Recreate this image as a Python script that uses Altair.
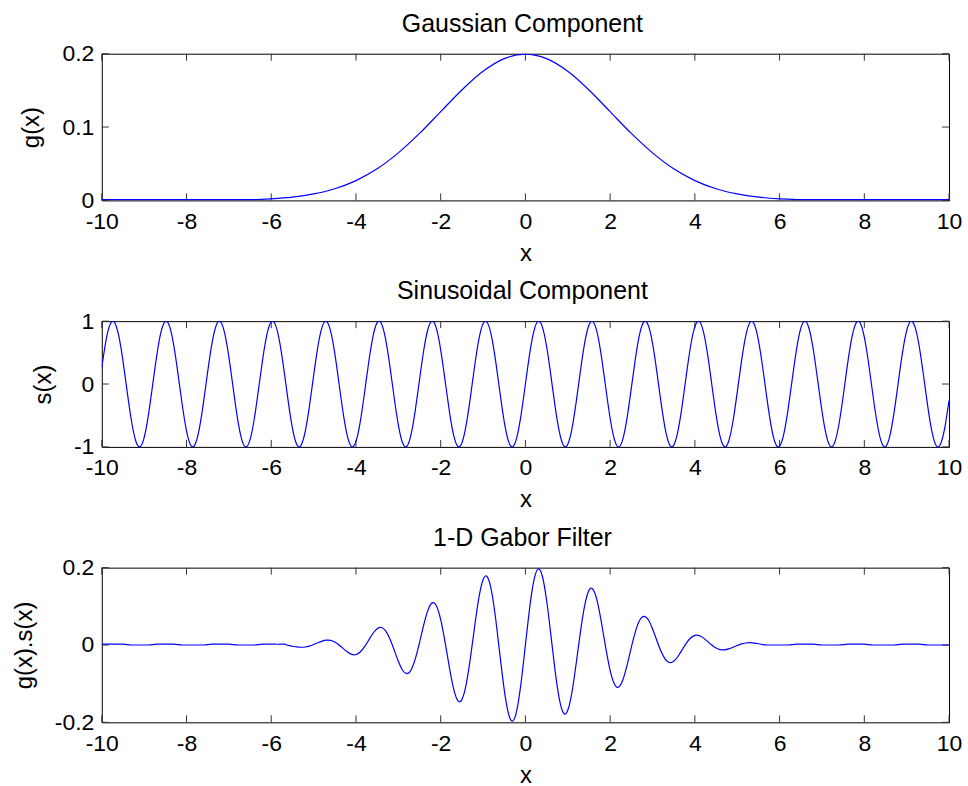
import altair as alt
import pandas as pd

# ---------------- data ----------------
X = [
    -10.0, -9.9, -9.8, -9.7, -9.6, -9.5, -9.4, -9.3, -9.2, -9.1,
    -9.0, -8.9, -8.8, -8.7, -8.6, -8.5, -8.4, -8.3, -8.2, -8.1,
    -8.0, -7.9, -7.8, -7.7, -7.6, -7.5, -7.4, -7.3, -7.2, -7.1,
    -7.0, -6.9, -6.8, -6.7, -6.6, -6.5, -6.4, -6.3, -6.2, -6.1,
    -6.0, -5.9, -5.8, -5.7, -5.6, -5.5, -5.4, -5.3, -5.2, -5.1,
    -5.0, -4.9, -4.8, -4.7, -4.6, -4.5, -4.4, -4.3, -4.2, -4.1,
    -4.0, -3.9, -3.8, -3.7, -3.6, -3.5, -3.4, -3.3, -3.2, -3.1,
    -3.0, -2.9, -2.8, -2.7, -2.6, -2.5, -2.4, -2.3, -2.2, -2.1,
    -2.0, -1.9, -1.8, -1.7, -1.6, -1.5, -1.4, -1.3, -1.2, -1.1,
    -1.0, -0.9, -0.8, -0.7, -0.6, -0.5, -0.4, -0.3, -0.2, -0.1,
    0.0, 0.1, 0.2, 0.3, 0.4, 0.5, 0.6, 0.7, 0.8, 0.9,
    1.0, 1.1, 1.2, 1.3, 1.4, 1.5, 1.6, 1.7, 1.8, 1.9,
    2.0, 2.1, 2.2, 2.3, 2.4, 2.5, 2.6, 2.7, 2.8, 2.9,
    3.0, 3.1, 3.2, 3.3, 3.4, 3.5, 3.6, 3.7, 3.8, 3.9,
    4.0, 4.1, 4.2, 4.3, 4.4, 4.5, 4.6, 4.7, 4.8, 4.9,
    5.0, 5.1, 5.2, 5.3, 5.4, 5.5, 5.6, 5.7, 5.8, 5.9,
    6.0, 6.1, 6.2, 6.3, 6.4, 6.5, 6.6, 6.7, 6.8, 6.9,
    7.0, 7.1, 7.2, 7.3, 7.4, 7.5, 7.6, 7.7, 7.8, 7.9,
    8.0, 8.1, 8.2, 8.3, 8.4, 8.5, 8.6, 8.7, 8.8, 8.9,
    9.0, 9.1, 9.2, 9.3, 9.4, 9.5, 9.6, 9.7, 9.8, 9.9,
    10.0,
]

S = [
    0.262, 0.693, 0.953, 0.982, 0.768, 0.367, -0.124, -0.584, -0.902, -0.999,
    -0.851, -0.495, -0.018, 0.464, 0.832, 0.996, 0.917, 0.612, 0.158, -0.334,
    -0.745, -0.974, -0.964, -0.718, -0.296, 0.198, 0.644, 0.932, 0.992, 0.809,
    0.428, -0.057, -0.529, -0.871, -1.000, -0.884, -0.552, -0.084, 0.404, 0.794,
    0.988, 0.941, 0.664, 0.224, -0.271, -0.700, -0.956, -0.979, -0.763, -0.359,
    0.132, 0.592, 0.906, 0.998, 0.846, 0.488, 0.009, -0.471, -0.837, -0.997,
    -0.913, -0.605, -0.150, 0.343, 0.751, 0.976, 0.961, 0.712, 0.288, -0.206,
    -0.650, -0.935, -0.991, -0.804, -0.420, 0.066, 0.537, 0.875, 1.000, 0.880,
    0.544, 0.075, -0.412, -0.798, -0.989, -0.938, -0.657, -0.215, 0.279, 0.706,
    0.959, 0.978, 0.757, 0.351, -0.141, -0.598, -0.909, -0.997, -0.841, -0.479,
    0.000, 0.479, 0.841, 0.997, 0.909, 0.598, 0.141, -0.351, -0.757, -0.978,
    -0.959, -0.706, -0.279, 0.215, 0.657, 0.938, 0.989, 0.798, 0.412, -0.075,
    -0.544, -0.880, -1.000, -0.875, -0.537, -0.066, 0.420, 0.804, 0.991, 0.935,
    0.650, 0.206, -0.288, -0.712, -0.961, -0.976, -0.751, -0.343, 0.150, 0.605,
    0.913, 0.997, 0.837, 0.471, -0.009, -0.488, -0.846, -0.998, -0.906, -0.592,
    -0.132, 0.359, 0.763, 0.979, 0.956, 0.700, 0.271, -0.224, -0.664, -0.941,
    -0.988, -0.794, -0.404, 0.084, 0.552, 0.884, 1.000, 0.871, 0.529, 0.057,
    -0.428, -0.809, -0.992, -0.932, -0.644, -0.198, 0.296, 0.718, 0.964, 0.974,
    0.745, 0.334, -0.158, -0.612, -0.917, -0.996, -0.832, -0.464, 0.018, 0.495,
    0.851, 0.999, 0.902, 0.584, 0.124, -0.367, -0.768, -0.982, -0.953, -0.693,
    -0.262,
]

GS = [
    0.002, 0.002, 0.002, 0.002, 0.002, 0.002, 0.001, 0.0, 0.0, 0.0,
    0.0, 0.0, 0.001, 0.002, 0.002, 0.002, 0.002, 0.002, 0.001, 0.0,
    0.0, 0.0, 0.0, 0.0, 0.0, 0.001, 0.002, 0.002, 0.002, 0.002,
    0.002, 0.001, 0.0, 0.0, 0.0, 0.0, 0.0, 0.001, 0.002, 0.002,
    0.002, 0.002, 0.002, 0.002, -0.0011, -0.0032, -0.0050, -0.0059, -0.0052, -0.0028,
    0.0012, 0.0059, 0.0101, 0.0126, 0.0120, 0.0078, 0.0002, -0.0093, -0.0184, -0.0243,
    -0.0247, -0.0180, -0.0049, 0.0123, 0.0297, 0.0421, 0.0452, 0.0364, 0.0160, -0.0124,
    -0.0421, -0.0652, -0.0742, -0.0645, -0.0360, 0.0060, 0.0521, 0.0901, 0.1089, 0.1011,
    0.0658, 0.0095, -0.0548, -0.1109, -0.1432, -0.1413, -0.1026, -0.0347, 0.0465, 0.1211,
    0.1688, 0.1763, 0.1394, 0.0658, -0.0269, -0.1156, -0.1777, -0.1966, -0.1669, -0.0954,
    0.0, 0.0954, 0.1669, 0.1966, 0.1777, 0.1156, 0.0269, -0.0658, -0.1394, -0.1763,
    -0.1688, -0.1211, -0.0465, 0.0347, 0.1026, 0.1413, 0.1432, 0.1109, 0.0548, -0.0095,
    -0.0658, -0.1011, -0.1089, -0.0901, -0.0521, -0.0060, 0.0360, 0.0645, 0.0742, 0.0652,
    0.0421, 0.0124, -0.0160, -0.0364, -0.0452, -0.0421, -0.0297, -0.0123, 0.0049, 0.0180,
    0.0247, 0.0243, 0.0184, 0.0093, -0.0002, -0.0078, -0.0120, -0.0126, -0.0101, -0.0059,
    -0.0012, 0.0028, 0.0052, 0.0059, 0.0050, 0.0032, 0.0011, 0.0, 0.0, 0.0,
    0.0, 0.0, 0.0, 0.001, 0.002, 0.002, 0.002, 0.002, 0.002, 0.001,
    0.0, 0.0, 0.0, 0.0, 0.0, 0.001, 0.002, 0.002, 0.002, 0.002,
    0.002, 0.001, 0.0, 0.0, 0.0, 0.0, 0.0, 0.0, 0.001, 0.002,
    0.002, 0.002, 0.002, 0.002, 0.001, 0.0, 0.0, 0.0, 0.0, 0.0,
    0.0,
]

XG = [
    -10.0, -9.5, -9.0, -8.5, -8.0, -7.5, -7.0, -6.5, -6.0, -5.5,
    -5.0, -4.5, -4.0, -3.5, -3.0, -2.5, -2.0, -1.5, -1.0, -0.5,
    0.0, 0.5, 1.0, 1.5, 2.0, 2.5, 3.0, 3.5, 4.0, 4.5,
    5.0, 5.5, 6.0, 6.5, 7.0, 7.5, 8.0, 8.5, 9.0, 9.5,
    10.0,
]
G = [
    0.001, 0.001, 0.001, 0.001, 0.001, 0.001, 0.001, 0.001, 0.0022, 0.0045,
    0.0088, 0.0159, 0.0270, 0.0431, 0.0648, 0.0913, 0.1210, 0.1506, 0.1760, 0.1933,
    0.1995, 0.1933, 0.1760, 0.1506, 0.1210, 0.0913, 0.0648, 0.0431, 0.0270, 0.0159,
    0.0088, 0.0045, 0.0022, 0.001, 0.001, 0.001, 0.001, 0.001, 0.001, 0.001,
    0.001,
]

X_TICKS = [-10, -8, -6, -4, -2, 0, 2, 4, 6, 8, 10]
G_TICKS = [0, 0.1, 0.2]
S_TICKS = [-1, 0, 1]
GS_TICKS = [-0.2, 0, 0.2]

TITLES = ["Gaussian Component", "Sinusoidal Component", "1-D Gabor Filter"]
Y_TITLES = ["g(x)", "s(x)", "g(x).s(x)"]

# ---------------- styling ----------------
W = 849
HEIGHTS = [147, 126, 155]
FONT = "Liberation Sans"
TICK_LEN = 7
TICK_COLOR = "#333333"
LINE_COLOR = "#0000ff"

df_g = pd.DataFrame({"x": XG, "val": G})
df_s = pd.DataFrame({"x": X, "val": S})
df_gs = pd.DataFrame({"x": X, "val": GS})


def panel(df, ydom, yticks, ytitle, title, h, interp):
    xscale = alt.Scale(domain=[-10, 10], nice=False, zero=False)
    yscale = alt.Scale(domain=ydom, nice=False, zero=False)
    xaxis = alt.Axis(values=X_TICKS, title="x", labelExpr="'' + datum.value")
    yaxis = alt.Axis(values=yticks, title=ytitle, labelExpr="'' + datum.value")
    xenc = alt.X("x:Q", scale=xscale, axis=xaxis)
    yenc = alt.Y("val:Q", scale=yscale, axis=yaxis)

    xt = pd.DataFrame({"x": X_TICKS})
    yt = pd.DataFrame({"val": yticks})
    rule = dict(color=TICK_COLOR, strokeWidth=1)
    xb = alt.Chart(xt).mark_rule(**rule).encode(
        x=xenc, y=alt.value(h), y2=alt.value(h - TICK_LEN))
    xtop = alt.Chart(xt).mark_rule(**rule).encode(
        x=xenc, y=alt.value(0), y2=alt.value(TICK_LEN))
    yl = alt.Chart(yt).mark_rule(**rule).encode(
        y=yenc, x=alt.value(0), x2=alt.value(TICK_LEN))
    yr = alt.Chart(yt).mark_rule(**rule).encode(
        y=yenc, x=alt.value(W), x2=alt.value(W - TICK_LEN))
    line = alt.Chart(df).mark_line(
        color=LINE_COLOR, strokeWidth=1.2, interpolate=interp, clip=True
    ).encode(x=xenc, y=yenc)
    return alt.layer(xb, xtop, yl, yr, line).properties(
        width=W, height=h,
        title=alt.TitleParams(title, font=FONT, fontSize=25, fontWeight="normal",
                              color="black", offset=-19, frame="group",
                              anchor="middle", baseline="bottom", dx=-3),
    )


p1 = panel(df_g, [0, 0.2], G_TICKS, Y_TITLES[0], TITLES[0], HEIGHTS[0], "monotone")
p2 = panel(df_s, [-1, 1], S_TICKS, Y_TITLES[1], TITLES[1], HEIGHTS[1], "natural")
p3 = panel(df_gs, [-0.2, 0.2], GS_TICKS, Y_TITLES[2], TITLES[2], HEIGHTS[2], "natural")

chart = alt.vconcat(p1, p2, p3, spacing=12).properties(
    padding={"left": 11, "top": 10, "right": 5, "bottom": 5},
    background="white",
).configure_view(
    stroke="black", strokeWidth=1
).configure_axis(
    grid=False, domain=False, ticks=False, tickSize=0,
    labelFont=FONT, labelFontSize=23, labelColor="black",
    labelFlush=False, labelOverlap=False, labelBound=False,
    titleFont=FONT, titleFontSize=24, titleFontWeight="normal", titleColor="black",
).configure_axisX(
    labelPadding=10, titlePadding=8
).configure_axisY(
    labelPadding=8, titlePadding=18
)

chart.save("out.html", embed_options={"renderer": "svg", "actions": False})
